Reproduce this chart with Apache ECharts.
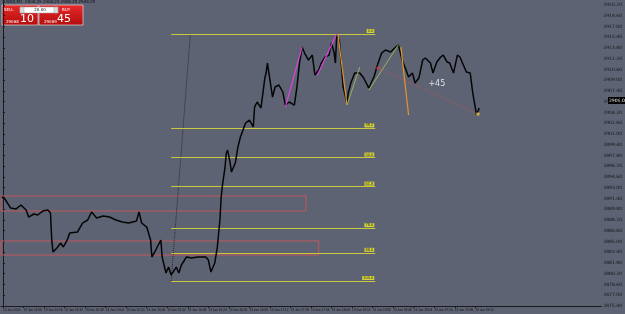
<!DOCTYPE html>
<html>
<head>
<meta charset="utf-8">
<script src="https://cdn.jsdelivr.net/npm/echarts@6/dist/echarts.min.js"></script>
<style>
  html, body { margin: 0; padding: 0; background: #5e6374; }
  #main { width: 625px; height: 314px; }
</style>
</head>
<body>
<div id="main"></div>
<script>
// minutes after 13:44 and close price of the M1 bars
var minutes = [-1, 1, 6, 10, 14, 18, 20, 24, 27, 31, 35, 37, 38, 39, 42, 45, 47, 50, 52, 58,
  62, 66, 69, 73, 78, 83, 88, 93, 98, 104, 106, 108, 112, 115, 116, 119, 123, 124, 127, 129,
  131, 135, 137, 139, 143, 147, 152, 158, 160, 162, 165, 167, 169, 170, 171, 173, 174, 175, 177, 178,
  181, 183, 185, 187, 189, 192, 195, 196, 198, 201, 204, 205, 206, 208, 210, 212, 215, 218, 220, 223,
  227, 229, 231, 233, 235, 238, 241, 243, 246, 248, 251, 254, 256, 258, 259, 260, 262, 264, 265, 268,
  269, 271, 274, 278, 281, 285, 289, 292, 295, 298, 302, 306, 308, 311, 314, 316, 319, 321, 324, 327,
  329, 333, 335, 338, 341, 343, 346, 348, 351, 354, 356, 358, 361, 364, 366, 369, 371];
var closes = [2891.62, 2891.47, 2889.98, 2889.83, 2890.43, 2889.68, 2888.64, 2889.09, 2888.94, 2889.53, 2889.68, 2889.24, 2885.22, 2883.43, 2884.03, 2884.77, 2884.18, 2885.22, 2886.26, 2886.41,
  2887.75, 2888.20, 2889.39, 2888.49, 2888.79, 2888.64, 2888.20, 2887.90, 2887.75, 2888.05, 2889.39, 2887.75, 2887.15, 2885.22, 2882.69, 2883.73, 2885.22, 2882.69, 2880.31, 2881.20,
  2880.01, 2881.20, 2880.31, 2881.50, 2882.69, 2882.54, 2882.69, 2882.69, 2882.24, 2880.46, 2881.80, 2884.18, 2888.20, 2891.62, 2893.40, 2896.08, 2898.17, 2898.61, 2896.68, 2895.34,
  2896.68, 2899.06, 2900.55, 2901.59, 2902.63, 2903.08, 2902.04, 2905.01, 2905.76, 2904.87, 2909.33, 2910.07, 2911.56, 2909.03, 2906.50, 2907.99, 2908.29, 2907.25, 2905.31, 2905.76,
  2905.31, 2907.99, 2911.56, 2913.94, 2913.05, 2912.01, 2912.75, 2909.78, 2910.52, 2911.56, 2912.46, 2912.75, 2914.54, 2913.05, 2911.56, 2915.73, 2914.99, 2910.52, 2907.99, 2905.61,
  2907.10, 2908.59, 2910.07, 2910.07, 2909.33, 2907.84, 2909.48, 2911.41, 2913.05, 2913.50, 2913.20, 2913.94, 2914.24, 2912.01, 2910.52, 2909.48, 2910.07, 2908.59, 2909.33, 2912.01,
  2912.31, 2911.56, 2910.07, 2911.71, 2912.46, 2912.75, 2911.71, 2911.56, 2910.07, 2912.75, 2912.46, 2911.56, 2910.22, 2910.07, 2907.10, 2903.82, 2904.87];

// fibonacci retracement
var fibHigh = 2915.88, fibLow = 2879.12;
var fibFrom = 131, fibTo = 290;
var fibRatios = [0, 38.2, 50.0, 61.8, 78.6, 88.6, 100.0];

// zigzag legs [[t, price], [t, price]]
var zigMagenta = [[[220, 2905.01], [233, 2913.94]], [[245, 2909.78], [260, 2915.88]]];
var zigOrange = [[[261, 2915.73], [268, 2905.31]], [[310, 2913.94], [316, 2903.82]]];
var zigGreen = [[[268, 2905.31], [278, 2910.97]], [[285, 2907.54], [308, 2914.24]]];
var tradeLine = [[292, 2910.82], [370, 2903.97]];
var fibDots = [[131, 2879.12], [146, 2915.88]];

// zones: [t end, price top, price bottom]
var zones = [[236, 2891.77, 2889.54], [246, 2885.07, 2882.99]];

var lastPrice = 2906.06;
var profitText = '+45';
var profitPos = [338, 2908.44];

// axis ticks
var timeTicks = [];
for (var t = 0; t <= 368; t += 16) timeTicks.push(t);
var priceTicks = [];
for (var k = 0; k <= 28; k++) priceTicks.push(2875.4 + k * 1.6);

function timeLabel(v) {
  if (Math.abs(v) < 0.5) return '13 Jan 2020';
  var m = 13 * 60 + 44 + Math.round(v);
  var hh = Math.floor(m / 60), mm = m % 60;
  return '13 Jan ' + hh + ':' + (mm < 10 ? '0' : '') + mm;
}

var priceData = minutes.map(function (m, i) { return [m, closes[i]]; });

var chart = echarts.init(document.getElementById('main'));

var option = {
  animation: false,
  backgroundColor: '#5e6374',
  grid: { left: 0, right: 17, top: 0, bottom: 8 },
  xAxis: {
    type: 'value', min: -1.5, max: 466.2,
    axisLine: { show: true, lineStyle: { color: '#1a1a1a', width: 1 } },
    splitLine: { show: false },
    axisTick: { show: true, customValues: timeTicks, length: 2, lineStyle: { color: '#1a1a1a' } },
    axisLabel: {
      customValues: timeTicks, formatter: timeLabel, fontSize: 3.2, color: '#151515',
      align: 'left', margin: 2.5, fontFamily: 'Liberation Sans',
      showMinLabel: true, showMaxLabel: true, hideOverlap: false
    }
  },
  yAxis: {
    type: 'value', position: 'right', min: 2875.4, max: 2920.944,
    axisLine: { show: true, lineStyle: { color: '#1a1a1a', width: 1 } },
    splitLine: { show: false },
    axisTick: { show: true, customValues: priceTicks, length: 2, lineStyle: { color: '#1a1a1a' } },
    axisLabel: {
      customValues: priceTicks, fontSize: 4.5, color: '#151515', margin: 2,
      fontFamily: 'DejaVu Sans',
      formatter: function (v) { return v.toFixed(2); }
    }
  },
  series: [
    {
      type: 'line', data: priceData, showSymbol: false, z: 5,
      lineStyle: { color: '#050505', width: 1.5 },
      markArea: {
        silent: true,
        itemStyle: { color: 'rgba(0,0,0,0)', borderColor: '#c0585c', borderWidth: 1 },
        data: zones.map(function (z) {
          return [{ coord: [-1.5, z[1]] }, { coord: [z[0], z[2]] }];
        })
      }
    },
    {
      type: 'line', data: [], z: 3,
      markLine: {
        silent: true, symbol: ['none', 'none'],
        lineStyle: { color: '#c8c83a', width: 1, type: 'solid' },
        label: {
          show: true, position: 'insideEndTop', distance: 1,
          fontSize: 4, color: '#333', backgroundColor: '#d2d23c', padding: [0, 1],
          formatter: function (p) { return p.name; }
        },
        data: fibRatios.map(function (r) {
          var p = fibHigh - (fibHigh - fibLow) * r / 100;
          return [{ name: r.toFixed(1), coord: [fibFrom, p] }, { coord: [fibTo, p] }];
        })
      }
    },
    {
      type: 'lines', coordinateSystem: 'cartesian2d', z: 6,
      lineStyle: { color: '#e040e0', width: 1.2, opacity: 1 },
      data: zigMagenta.map(function (s) { return { coords: s }; })
    },
    {
      type: 'lines', coordinateSystem: 'cartesian2d', z: 6,
      lineStyle: { color: '#e0962a', width: 1.2, opacity: 1 },
      data: zigOrange.map(function (s) { return { coords: s }; })
    },
    {
      type: 'lines', coordinateSystem: 'cartesian2d', z: 6,
      lineStyle: { color: '#9bb05a', width: 1, opacity: 1 },
      data: zigGreen.map(function (s) { return { coords: s }; })
    },
    {
      type: 'lines', coordinateSystem: 'cartesian2d', z: 6,
      lineStyle: { color: '#e04848', width: 1, type: [1, 2], opacity: 1 },
      data: [{ coords: tradeLine }]
    },
    {
      type: 'lines', coordinateSystem: 'cartesian2d', z: 4,
      lineStyle: { color: '#2a2a2a', width: 1, type: [1, 1], opacity: 1 },
      data: [{ coords: fibDots }]
    },
    {
      type: 'scatter', z: 7, symbol: 'circle', symbolSize: 3,
      itemStyle: { color: '#ff3030' },
      data: [tradeLine[0]]
    },
    {
      type: 'scatter', z: 7, symbol: 'rect', symbolSize: 3,
      itemStyle: { color: '#f0d040' },
      data: [tradeLine[1]]
    },
    {
      type: 'scatter', z: 7, symbolSize: 0,
      label: {
        show: true, position: 'inside', formatter: profitText,
        color: '#ffffff', fontSize: 8, fontFamily: 'DejaVu Sans'
      },
      data: [profitPos]
    }
  ]
};
chart.setOption(option);

var lastY = chart.convertToPixel({ yAxisIndex: 0 }, lastPrice);

chart.setOption({
  graphic: [
    {
      type: 'text', left: 4, top: 0,
      style: { text: 'USDX,M1  2908.29 2908.29 2908.25 2908.25', fontSize: 4, fill: '#111', fontFamily: 'DejaVu Sans' }
    },
    {
      type: 'rect', shape: { x: 2, y: 5, width: 36, height: 20 },
      style: { fill: new echarts.graphic.LinearGradient(0, 0, 0, 1, [{ offset: 0, color: '#e82a2a' }, { offset: 1, color: '#b30c0c' }]), stroke: '#f2f2f2', lineWidth: 0.6 }
    },
    {
      type: 'rect', shape: { x: 39, y: 5, width: 44, height: 20 },
      style: { fill: new echarts.graphic.LinearGradient(0, 0, 0, 1, [{ offset: 0, color: '#e82a2a' }, { offset: 1, color: '#b30c0c' }]), stroke: '#f2f2f2', lineWidth: 0.6 }
    },
    { type: 'rect', shape: { x: 20, y: 7, width: 38, height: 6 }, style: { fill: '#ffffff', stroke: '#999', lineWidth: 0.5 } },
    { type: 'rect', shape: { x: 20, y: 7, width: 4, height: 6 }, style: { fill: '#dcdcdc', stroke: '#999', lineWidth: 0.5 } },
    { type: 'rect', shape: { x: 54, y: 7, width: 4, height: 6 }, style: { fill: '#dcdcdc', stroke: '#999', lineWidth: 0.5 } },
    { type: 'text', x: 40, y: 7.5, style: { text: '20.00', fontSize: 4, fill: '#111', align: 'center', fontFamily: 'DejaVu Sans' } },
    { type: 'text', x: 4, y: 7.5, style: { text: 'SELL', fontSize: 4, fill: '#fff', fontFamily: 'DejaVu Sans' } },
    { type: 'text', x: 62, y: 7.5, style: { text: 'BUY', fontSize: 4, fill: '#fff', fontFamily: 'DejaVu Sans' } },
    { type: 'text', x: 6, y: 19.5, style: { text: '29068', fontSize: 4, fill: '#fff', fontFamily: 'DejaVu Sans' } },
    { type: 'text', x: 20, y: 13.5, style: { text: '10', fontSize: 11, fill: '#fff', fontFamily: 'DejaVu Sans' } },
    { type: 'text', x: 44, y: 19.5, style: { text: '29069', fontSize: 4, fill: '#fff', fontFamily: 'DejaVu Sans' } },
    { type: 'text', x: 57, y: 13.5, style: { text: '45', fontSize: 11, fill: '#fff', fontFamily: 'DejaVu Sans' } },
    {
      type: 'text', x: 608, y: lastY - 3,
      style: { text: lastPrice.toFixed(2), fontSize: 4.5, fill: '#fff', backgroundColor: '#000', padding: [1, 1], fontFamily: 'DejaVu Sans' }
    }
  ]
});
</script>
</body>
</html>
